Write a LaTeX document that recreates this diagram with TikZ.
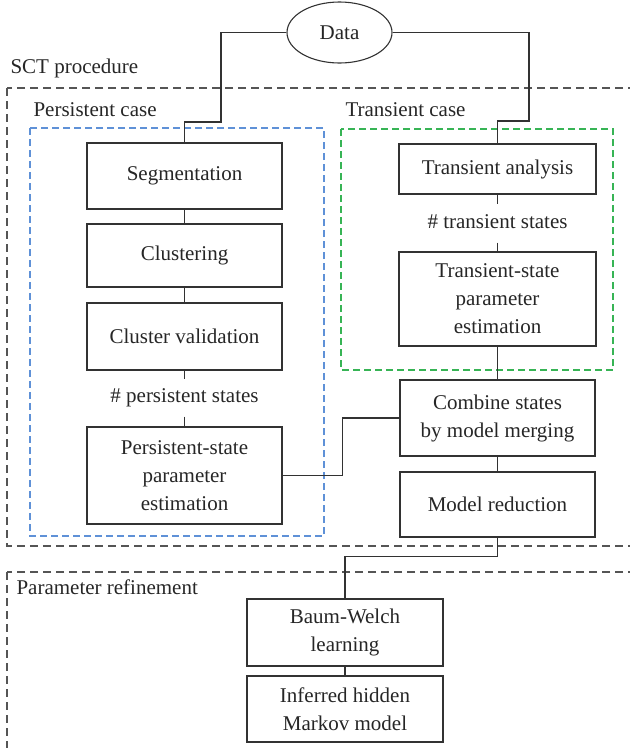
\documentclass[tikz,border=0pt]{standalone}
\usepackage{fontspec}
\setmainfont{Liberation Serif}
\usepackage{tikz}
\usetikzlibrary{shapes.geometric}
\tikzset{>=stealth}
\definecolor{persblue}{RGB}{95,145,215}
\definecolor{transgreen}{RGB}{55,180,85}
\definecolor{framegray}{RGB}{85,85,85}
\definecolor{linegray}{RGB}{50,50,50}

\begin{document}
\begin{tikzpicture}[x=1pt, y=-1pt, line width=1.1pt, font=\fontsize{21}{28}\selectfont,
	box/.style={draw=linegray, rectangle, align=center, inner sep=0pt, minimum width=195pt, text=black!85},
	count/.style={inner sep=0pt, text height=14pt, text depth=5pt, text=black!85},
	frame/.style={draw=framegray, dash pattern=on 8pt off 5pt, line width=1.1pt},
	caselabel/.style={anchor=west, inner sep=0pt, text=black!85}]
		\useasboundingbox (0,0) rectangle (630,748);
		\clip (0,0) rectangle (630,748);
		% dashed frames
		\draw [frame] (7,88) rectangle (650,546);
		\draw [frame] (7,572) rectangle (650,770);
		\draw [draw=persblue, dash pattern=on 7pt off 4pt, line width=1.1pt] (30,128) rectangle (324,536);
		\draw [draw=transgreen, dash pattern=on 7pt off 4pt, line width=1.1pt] (341,129) rectangle (613,370);
		\node [caselabel] (sct) at (10,68) {SCT procedure};
		\node [caselabel] (perscase) at (33,110) {Persistent case};
		\node [caselabel] (transcase) at (345,110) {Transient case};
		\node [caselabel] (refine) at (16,587) {Parameter refinement};
		% input
		\node [draw=linegray, ellipse, minimum width=105pt, minimum height=61pt, inner sep=0pt, text=black!85] (data) at (339.5,32.5) {Data};
		% persistent case
		\node [box, minimum height=66pt] (segm) at (184.5,176) {Segmentation};
		\node [box, minimum height=63pt] (clust) at (184.5,255.5) {Clustering};
		\node [box, minimum height=67pt] (cval) at (184.5,336.5) {Cluster validation};
		\node [count, minimum height=36pt] (npers) at (184.5,398) {\# persistent states};
		\node [box, minimum height=97pt] (pest) at (184.5,475.5) {Persistent-state\\parameter\\estimation};
		% transient case
		\node [box, minimum width=197pt, minimum height=50pt] (tana) at (497.5,169) {Transient analysis};
		\node [count, minimum height=37pt] (ntrans) at (497.5,223.5) {\# transient states};
		\node [box, minimum width=197pt, minimum height=94pt] (test) at (497.5,299) {Transient-state\\parameter\\estimation};
		% merging
		\node [box, minimum height=76pt] (comb) at (497.5,418) {Combine states\\by model merging};
		\node [box, minimum height=65pt] (mred) at (497.5,504.5) {Model reduction};
		% refinement
		\node [box, minimum width=196pt, minimum height=67pt] (bw) at (345,632.5) {Baum-Welch\\learning};
		\node [box, minimum width=196pt, minimum height=66pt] (hmm) at (345,709) {Inferred hidden\\Markov model};
		% connectors
		\draw [linegray] (data.west) -| (221,122) -| (segm.north);
		\draw [linegray] (data.east) -| (529,121) -| (tana.north);
		\draw [linegray] (segm) -- (clust);
		\draw [linegray] (clust) -- (cval);
		\draw [linegray] (cval) -- (npers);
		\draw [linegray] (npers) -- (pest);
		\draw [linegray] (tana) -- (ntrans);
		\draw [linegray] (ntrans) -- (test);
		\draw [linegray] (test) -- (comb);
		\draw [linegray] (pest.east) -- ++(60,0) |- (comb.west);
		\draw [linegray] (comb) -- (mred);
		\draw [linegray] (mred.south) -- ++(0,19) -| (bw.north);
		\draw [linegray] (bw) -- (hmm);
\end{tikzpicture}
\end{document}
